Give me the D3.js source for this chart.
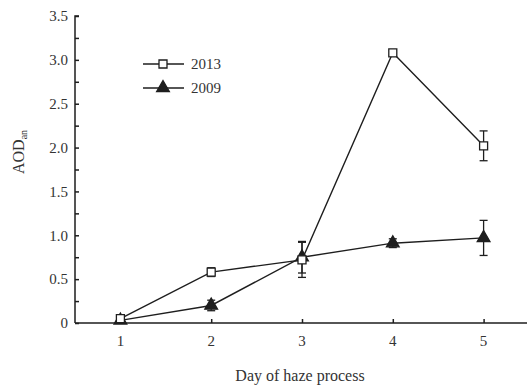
<!DOCTYPE html>
<html>
<head>
<meta charset="utf-8">
<script src="https://cdn.jsdelivr.net/npm/d3@7"></script>
<style>
  body { margin: 0; background: #fff; }
  svg { display: block; font-family: "Liberation Serif", "DejaVu Serif", serif; }
</style>
</head>
<body>
<div id="chart"></div>
<script>
// values
const days = [1, 2, 3, 4, 5];
const aod2013 = [0.05, 0.58, 0.72, 3.08, 2.02];
const err2013 = [0.03, 0.05, 0.2, 0.03, 0.17];
const aod2009 = [0.03, 0.2, 0.75, 0.91, 0.97];
const err2009 = [0.02, 0.06, 0.18, 0.05, 0.2];
const yTicks = [0, 0.5, 1.0, 1.5, 2.0, 2.5, 3.0, 3.5];

const width = 527, height = 387;
const ink = '#1e1e1e';

const svg = d3.select('#chart')
    .append('svg')
    .attr('width', width)
    .attr('height', height);

const x = d3.scaleLinear().domain([0.5, 5.5]).range([75, 529]);
const y = d3.scaleLinear().domain([0, 3.5]).range([323, 16]);

// y axis, ticks point inward
const yAxis = svg.append('g')
    .attr('transform', `translate(${x(0.5)},0)`)
    .call(d3.axisRight(y).tickValues(d3.range(0, 3.51, 0.25)).tickSize(4).tickFormat(''));
yAxis.select('.domain').attr('d', `M4,${y(3.5)}H0V${y(0)}`);
yAxis.selectAll('line, path').attr('stroke', ink).attr('stroke-width', 1.5);

svg.append('g').selectAll('text')
    .data(yTicks)
    .enter()
    .append('text')
    .attr('x', 68)
    .attr('y', d => y(d))
    .attr('dy', '0.35em')
    .attr('text-anchor', 'end')
    .style('font-size', '15px')
    .style('fill', '#333')
    .text(d => d === 0 ? '0' : d.toFixed(1));

// x axis, ticks point up
const xAxis = svg.append('g')
    .attr('transform', `translate(0,${y(0)})`)
    .call(d3.axisTop(x).tickValues(days).tickSize(4).tickFormat(''));
xAxis.select('.domain').attr('d', `M${x(0.5)},0H${x(5.5)}`);
xAxis.selectAll('line, path').attr('stroke', ink).attr('stroke-width', 1.5);

svg.append('g').selectAll('text')
    .data(days)
    .enter()
    .append('text')
    .attr('x', d => x(d))
    .attr('y', 346)
    .attr('text-anchor', 'middle')
    .style('font-size', '15px')
    .style('fill', '#333')
    .text(d => d);

svg.append('text')
    .attr('x', 300)
    .attr('y', 381)
    .attr('text-anchor', 'middle')
    .style('font-size', '16px')
    .style('fill', '#333')
    .text('Day of haze process');

const yl = svg.append('text')
    .attr('transform', `translate(24,${y(1.95)}) rotate(-90)`)
    .attr('text-anchor', 'middle')
    .style('font-size', '16px')
    .style('fill', '#333');
yl.append('tspan').text('AOD');
yl.append('tspan').attr('dy', 3).style('font-size', '10px').text('an');

const line = d3.line().x((d, i) => x(days[i])).y(d => y(d));

const tri = d3.symbol().type(d3.symbolTriangle).size(70);
const sq = d3.symbol().type(d3.symbolSquare).size(64);

function series(vals, errs, marker, fill) {
    const g = svg.append('g');
    g.append('path')
        .datum(vals)
        .attr('d', line)
        .attr('fill', 'none')
        .attr('stroke', ink)
        .attr('stroke-width', 1.4);
    const eb = g.selectAll('.eb')
        .data(vals)
        .enter()
        .append('g');
    eb.append('line')
        .attr('x1', (d, i) => x(days[i])).attr('x2', (d, i) => x(days[i]))
        .attr('y1', (d, i) => y(d - errs[i])).attr('y2', (d, i) => y(d + errs[i]))
        .attr('stroke', ink).attr('stroke-width', 1.3);
    [-1, 1].forEach(s => {
        eb.append('line')
            .attr('x1', (d, i) => x(days[i]) - 4).attr('x2', (d, i) => x(days[i]) + 4)
            .attr('y1', (d, i) => y(d + s * errs[i])).attr('y2', (d, i) => y(d + s * errs[i]))
            .attr('stroke', ink).attr('stroke-width', 1.3);
    });
    g.selectAll('.mk')
        .data(vals)
        .enter()
        .append('path')
        .attr('d', marker)
        .attr('transform', (d, i) => `translate(${x(days[i])},${y(d)})`)
        .attr('fill', fill)
        .attr('stroke', ink)
        .attr('stroke-width', 1.3);
}

series(aod2009, err2009, tri, ink);
series(aod2013, err2013, sq, '#fff');

// legend
const legend = [
    { label: '2013', marker: sq, fill: '#fff', yy: 64 },
    { label: '2009', marker: tri, fill: ink, yy: 88 }
];
const lg = svg.append('g').selectAll('g')
    .data(legend)
    .enter()
    .append('g')
    .attr('transform', d => `translate(0,${d.yy})`);
lg.append('line')
    .attr('x1', 143).attr('x2', 184).attr('y1', 0).attr('y2', 0)
    .attr('stroke', ink).attr('stroke-width', 1.4);
lg.append('path')
    .attr('d', d => d.marker())
    .attr('transform', 'translate(163,0)')
    .attr('fill', d => d.fill)
    .attr('stroke', ink)
    .attr('stroke-width', 1.3);
lg.append('text')
    .attr('x', 191)
    .attr('y', 0)
    .attr('dy', '0.35em')
    .style('font-size', '15px')
    .style('fill', '#333')
    .text(d => d.label);
</script>
</body>
</html>
